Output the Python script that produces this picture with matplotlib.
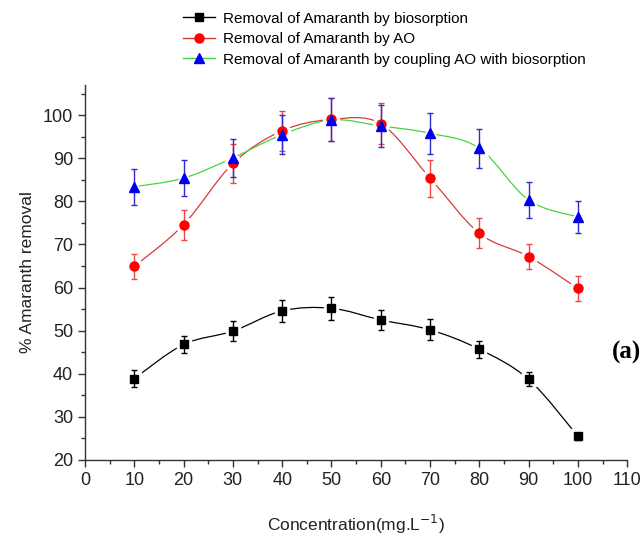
import matplotlib
matplotlib.use("Agg")
import matplotlib.pyplot as plt
from matplotlib.path import Path
from matplotlib.patches import PathPatch
from matplotlib.lines import Line2D
from matplotlib.ticker import MultipleLocator

plt.rcParams['font.family'] = ['Liberation Sans', 'DejaVu Sans']

# data
conc = [10, 20, 30, 40, 50, 60, 70, 80, 90, 100]

bio = [38.9, 46.8, 49.9, 54.6, 55.2, 52.5, 50.2, 45.7, 38.7, 25.5]
bio_err = [2.0, 2.0, 2.3, 2.6, 2.7, 2.3, 2.4, 2.0, 1.6, 0.8]

ao = [64.9, 74.6, 88.8, 96.4, 99.0, 98.0, 85.4, 72.6, 67.2, 59.8]
ao_err = [3.0, 3.5, 4.5, 4.6, 5.0, 4.8, 4.3, 3.5, 3.0, 2.9]

coupl = [83.4, 85.4, 90.1, 95.5, 98.9, 97.5, 95.8, 92.3, 80.3, 76.4]
coupl_err = [4.2, 4.1, 4.4, 4.6, 5.0, 4.9, 4.7, 4.6, 4.1, 3.8]

labels = ['Removal of Amaranth by biosorption',
          'Removal of Amaranth by AO',
          'Removal of Amaranth by coupling AO with biosorption']


def smooth_path(xs, ys):
    # catmull-rom through the points, drawn as bezier curves
    pts = list(zip(xs, ys))
    n = len(pts)
    verts = [pts[0]]
    codes = [Path.MOVETO]
    for i in range(n - 1):
        p0 = pts[i - 1] if i > 0 else pts[i]
        p1 = pts[i]
        p2 = pts[i + 1]
        p3 = pts[i + 2] if i + 2 < n else pts[i + 1]
        c1 = (p1[0] + (p2[0] - p0[0]) / 6, p1[1] + (p2[1] - p0[1]) / 6)
        c2 = (p2[0] - (p3[0] - p1[0]) / 6, p2[1] - (p3[1] - p1[1]) / 6)
        verts += [c1, c2, p2]
        codes += [Path.CURVE4] * 3
    return Path(verts, codes)


fig = plt.figure(figsize=(6.44, 5.37), dpi=100)
ax = fig.add_axes([0.132, 0.1434, 0.842, 0.6983])

series = [
    (bio, bio_err, 'black', 'black', 'black', 's', 5.5),
    (ao, ao_err, '#d83a3a', '#ff0000', '#e84848', 'o', 6.5),
    (coupl, coupl_err, '#44d444', '#0000ee', '#2c2cd0', '^', 7.5),
]

handles = []
for ys, err, lc, mc, ec, mk, ms in series:
    ax.add_patch(PathPatch(smooth_path(conc, ys), fill=False, edgecolor=lc,
                           lw=0.9, zorder=2, transform=ax.transData))
    ax.plot(conc, ys, ls='none', marker=mk, ms=ms + 5, color='white',
            mec='white', zorder=3)
    ax.errorbar(conc, ys, yerr=err, fmt='none', ecolor=ec, elinewidth=1.0,
                capsize=2.5, capthick=1.0, zorder=4)
    ax.plot(conc, ys, ls='none', marker=mk, ms=ms, color=mc, mec=mc, zorder=5)
    handles.append(Line2D([], [], color=lc, lw=1, marker=mk, ms=ms,
                          mfc=mc, mec=mc))

ax.set_xlim(0, 110)
ax.set_ylim(20, 107)
ax.xaxis.set_major_locator(MultipleLocator(10))
ax.xaxis.set_minor_locator(MultipleLocator(5))
ax.yaxis.set_major_locator(MultipleLocator(10))
ax.yaxis.set_minor_locator(MultipleLocator(5))
ax.set_yticks(range(20, 101, 10))
ax.spines['top'].set_visible(False)
ax.spines['right'].set_visible(False)
for s in ['left', 'bottom']:
    ax.spines[s].set_color('#333333')
    ax.spines[s].set_linewidth(1.0)
ax.tick_params(which='major', direction='out', length=5, width=1,
               labelsize=13, colors='#333333', labelcolor='#222222')
ax.tick_params(which='minor', direction='out', length=3, width=1,
               colors='#333333')

ax.set_xlabel('Concentration(mg.L$^{-1}$)', fontsize=12.5, color='#222222',
              labelpad=17)
ax.set_ylabel('% Amaranth removal', fontsize=12.5, color='#222222',
              labelpad=6)

fig.text(0.995, 1 - 352 / 537, '(a)', fontsize=18, fontweight='bold',
         family='Liberation Serif', ha='right', va='center')

fig.legend(handles, labels, loc='upper left',
           bbox_to_anchor=(0.284, 0.978), frameon=False, fontsize=11,
           handlelength=2.1, handletextpad=0.5, labelspacing=0.42,
           borderpad=0, borderaxespad=0)

fig.savefig('out.png', dpi=100)
